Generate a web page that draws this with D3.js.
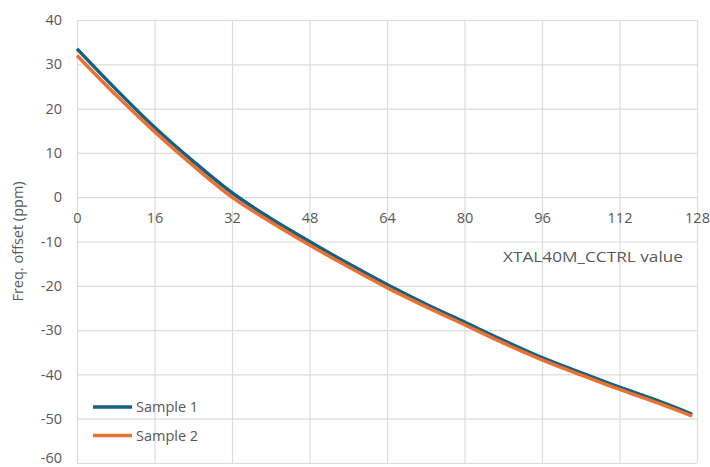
<!DOCTYPE html>
<html>
<head>
<meta charset="utf-8">
<script src="https://cdn.jsdelivr.net/npm/d3@7"></script>
<style>
  html, body { margin: 0; padding: 0; background: #fff; }
  svg { display: block; }
  text { font-family: "Open Sans", "Noto Sans", sans-serif; fill: #595959; }
</style>
</head>
<body>
<svg id="chart" width="710" height="467"></svg>
<script>
const xValues = [0, 8, 16, 24, 32, 40, 48, 56, 64, 72, 80, 88, 96, 104, 112, 120, 127];
const sample1 = [33.5, 24.4, 15.8, 8.1, 1.0, -4.8, -10.0, -15.0, -19.7, -24.1, -28.2, -32.3, -36.2, -39.6, -42.9, -46.0, -49.0];
const sample2 = [32.0, 23.1, 14.8, 7.1, 0.0, -5.6, -10.8, -15.7, -20.4, -24.7, -28.8, -32.9, -36.7, -40.1, -43.4, -46.5, -49.4];
const seriesNames = ["Sample 1", "Sample 2"];
const seriesColors = ["#156082", "#E97132"];
const xTicks = [0, 16, 32, 48, 64, 80, 96, 112, 128];
const yTicks = [40, 30, 20, 10, 0, -10, -20, -30, -40, -50, -60];
const xTitle = "XTAL40M_CCTRL value";
const yTitle = "Freq. offset (ppm)";

const svg = d3.select("#chart");
const W = 710, H = 467;
const m = { left: 77, right: 13, top: 20, bottom: 4 };
const iw = W - m.left - m.right, ih = H - m.top - m.bottom;
const FS = 14.5;

const x = d3.scaleLinear().domain([0, 128]).range([m.left, m.left + iw]);
const y = d3.scaleLinear().domain([-60, 40]).range([m.top + ih, m.top]);

// gridlines
const gy = svg.append("g").attr("transform", `translate(${m.left},0)`)
  .call(d3.axisLeft(y).tickValues(yTicks).tickSize(-iw).tickFormat(""));
gy.select(".domain").remove();
gy.selectAll("line").attr("stroke", "#dcdcdc").attr("stroke-width", 1.2);

const gx = svg.append("g").attr("transform", `translate(0,${m.top + ih})`)
  .call(d3.axisBottom(x).tickValues(xTicks).tickSize(-ih).tickFormat(""));
gx.select(".domain").remove();
gx.selectAll("line").attr("stroke", "#dcdcdc").attr("stroke-width", 1.2);

// y labels
const ly = svg.append("g").attr("transform", `translate(${m.left},0)`)
  .call(d3.axisLeft(y).tickValues(yTicks).tickSize(0).tickPadding(15).tickFormat(d => String(d)));
ly.select(".domain").remove();
ly.selectAll("text").attr("font-size", FS).attr("fill", "#595959")
  .attr("font-family", "'Open Sans', sans-serif");
// keep the lowest label inside the frame
ly.selectAll(".tick").filter(d => d === -60).select("text").attr("dy", "-0.05em");

// x labels at y=0
const lx = svg.append("g").attr("transform", `translate(0,${y(0)})`)
  .call(d3.axisBottom(x).tickValues(xTicks).tickSize(0).tickPadding(16).tickFormat(d => String(d)));
lx.select(".domain").remove();
lx.selectAll("text").attr("font-size", FS).attr("fill", "#595959")
  .attr("font-family", "'Open Sans', sans-serif");

// lines
const line = d3.line().x((d, i) => x(xValues[i])).y(d => y(d)).curve(d3.curveMonotoneX);
[sample1, sample2].forEach((s, k) => {
  svg.append("path").datum(s).attr("d", line)
    .attr("fill", "none").attr("stroke", seriesColors[k]).attr("stroke-width", 3.5)
    .attr("stroke-linecap", "butt").attr("stroke-linejoin", "round");
});

// axis titles
svg.append("text").attr("x", 683).attr("y", 262).attr("text-anchor", "end")
  .attr("font-size", FS).attr("textLength", 180).attr("lengthAdjust", "spacingAndGlyphs").text(xTitle);
svg.append("text").attr("transform", `translate(23,${(m.top + m.top + ih) / 2}) rotate(-90)`)
  .attr("text-anchor", "middle").attr("font-size", FS).text(yTitle);

// legend
const leg = svg.append("g");
seriesNames.forEach((n, k) => {
  const yy = 407 + k * 28.5;
  leg.append("line").attr("x1", 93).attr("x2", 132).attr("y1", yy).attr("y2", yy)
    .attr("stroke", seriesColors[k]).attr("stroke-width", 3.5);
  leg.append("text").attr("x", 136).attr("y", yy).attr("dy", "0.35em")
    .attr("font-size", FS).text(n);
});
</script>
</body>
</html>
